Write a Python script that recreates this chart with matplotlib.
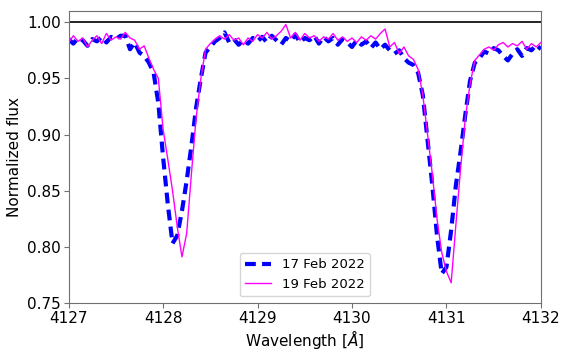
import matplotlib
matplotlib.use('Agg')
import matplotlib.pyplot as plt

plt.rcParams['font.size'] = 11

# wavelength grid (Angstrom), shared by both nights
wave = [4127.00, 4127.05, 4127.10, 4127.15, 4127.20, 4127.25, 4127.30, 4127.35, 4127.40, 4127.45,
        4127.50, 4127.55, 4127.60, 4127.65, 4127.70, 4127.75, 4127.80, 4127.85, 4127.90, 4127.95,
        4128.00, 4128.05, 4128.10, 4128.15, 4128.20, 4128.25, 4128.30, 4128.35, 4128.40, 4128.45,
        4128.50, 4128.55, 4128.60, 4128.65, 4128.70, 4128.75, 4128.80, 4128.85, 4128.90, 4128.95,
        4129.00, 4129.05, 4129.10, 4129.15, 4129.20, 4129.25, 4129.30, 4129.35, 4129.40, 4129.45,
        4129.50, 4129.55, 4129.60, 4129.65, 4129.70, 4129.75, 4129.80, 4129.85, 4129.90, 4129.95,
        4130.00, 4130.05, 4130.10, 4130.15, 4130.20, 4130.25, 4130.30, 4130.35, 4130.40, 4130.45,
        4130.50, 4130.55, 4130.60, 4130.65, 4130.70, 4130.75, 4130.80, 4130.85, 4130.90, 4130.95,
        4131.00, 4131.05, 4131.10, 4131.15, 4131.20, 4131.25, 4131.30, 4131.35, 4131.40, 4131.45,
        4131.50, 4131.55, 4131.60, 4131.65, 4131.70, 4131.75, 4131.80, 4131.85, 4131.90, 4131.95,
        4132.00]

flux_17feb = [0.985, 0.981, 0.986, 0.984, 0.979, 0.985, 0.983, 0.987, 0.982, 0.987,
              0.985, 0.988, 0.988, 0.976, 0.982, 0.973, 0.970, 0.964, 0.955, 0.928,
              0.880, 0.838, 0.803, 0.810, 0.832, 0.859, 0.890, 0.924, 0.950, 0.973,
              0.978, 0.983, 0.986, 0.991, 0.982, 0.985, 0.980, 0.984, 0.981, 0.986,
              0.983, 0.987, 0.982, 0.988, 0.984, 0.980, 0.986, 0.983, 0.989, 0.982,
              0.986, 0.984, 0.988, 0.981, 0.987, 0.983, 0.986, 0.980, 0.985, 0.982,
              0.978, 0.984, 0.980, 0.983, 0.977, 0.982, 0.976, 0.980, 0.975, 0.972,
              0.975, 0.968, 0.964, 0.962, 0.955, 0.935, 0.895, 0.855, 0.810, 0.776,
              0.782, 0.815, 0.855, 0.885, 0.918, 0.948, 0.964, 0.968, 0.974, 0.972,
              0.977, 0.975, 0.970, 0.966, 0.972, 0.976, 0.970, 0.977, 0.975, 0.980,
              0.976]

flux_19feb = [0.982, 0.988, 0.983, 0.986, 0.978, 0.984, 0.988, 0.981, 0.990, 0.984,
              0.987, 0.985, 0.991, 0.986, 0.984, 0.976, 0.979, 0.968, 0.958, 0.950,
              0.905, 0.878, 0.850, 0.818, 0.791, 0.812, 0.865, 0.915, 0.950, 0.976,
              0.981, 0.985, 0.988, 0.985, 0.989, 0.984, 0.986, 0.980, 0.986, 0.983,
              0.989, 0.986, 0.991, 0.985, 0.988, 0.992, 0.998, 0.986, 0.991, 0.984,
              0.990, 0.986, 0.988, 0.983, 0.987, 0.985, 0.990, 0.984, 0.987, 0.983,
              0.986, 0.982, 0.987, 0.984, 0.988, 0.985, 0.990, 0.994, 0.978, 0.982,
              0.972, 0.978, 0.970, 0.967, 0.958, 0.935, 0.900, 0.865, 0.825, 0.795,
              0.778, 0.768, 0.820, 0.870, 0.915, 0.945, 0.966, 0.971, 0.976, 0.978,
              0.975, 0.980, 0.982, 0.978, 0.981, 0.979, 0.983, 0.976, 0.981, 0.978,
              0.982]

fig, ax = plt.subplots(figsize=(5.67, 3.56), dpi=100)
fig.subplots_adjust(left=0.121, right=0.954, top=0.969, bottom=0.149)

ax.axhline(1.0, color='black', lw=1.2)
ax.plot(wave, flux_17feb, color='blue', ls='--', lw=3, dashes=(2.6, 1.5), label='17 Feb 2022')
ax.plot(wave, flux_19feb, color='magenta', lw=1, label='19 Feb 2022')

ax.set_xlim(4127, 4132)
ax.set_ylim(0.75, 1.01)
ax.set_xticks([4127, 4128, 4129, 4130, 4131, 4132])
ax.set_yticks([0.75, 0.80, 0.85, 0.90, 0.95, 1.00])
ax.set_yticklabels(['0.75', '0.80', '0.85', '0.90', '0.95', '1.00'])
for s in ax.spines.values():
    s.set_color('#707070')
ax.tick_params(color='#707070', pad=2)

ax.set_xlabel(r'Wavelength [$\AA$]', labelpad=2)
ax.set_ylabel('Normalized flux')
ax.legend(loc='lower center', fontsize=9.5)

fig.savefig('out.png', dpi=100)
